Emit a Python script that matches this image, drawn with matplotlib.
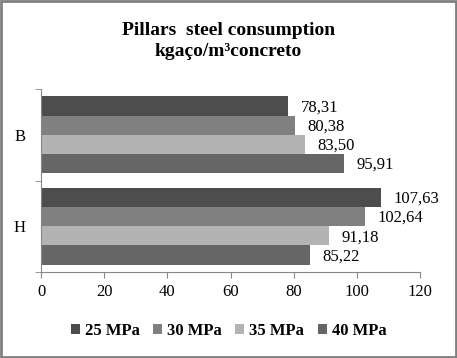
import matplotlib
matplotlib.use("Agg")
import numpy as np
from matplotlib import pyplot as plt
from matplotlib.patches import Rectangle

categories = ["H", "B"]
series = ["25 MPa", "30 MPa", "35 MPa", "40 MPa"]
# values per series, ordered like categories (H, B)
v25 = [107.63, 78.31]
v30 = [102.64, 80.38]
v35 = [91.18, 83.50]
v40 = [85.22, 95.91]
values = [v25, v30, v35, v40]
colors = ["#4d4d4d", "#808080", "#b3b3b3", "#666666"]
xticks = [0, 20, 40, 60, 80, 100, 120]

plt.rcParams['font.family'] = ['Liberation Serif', 'DejaVu Serif']

fig = plt.figure(figsize=(4.57, 3.58), dpi=100)
ax = fig.add_axes([41/457, 1-272/358, 379/457, 183/358])

h = 0.21
y = np.arange(len(categories))
for i in range(len(series)):
    pos = y + (1.5 - i)*h
    ax.barh(pos, values[i], height=h, color=colors[i], label=series[i], linewidth=0)
    for p, v in zip(pos, values[i]):
        ax.annotate(("%.2f" % v).replace(".", ","), (v, p), xytext=(9, -1),
                    textcoords="offset points", va="center", ha="left", fontsize=12)

ax.set_xlim(0, 120)
ax.set_ylim(-0.5, 1.5)
ax.set_xticks(xticks)
ax.set_xticklabels([str(t) for t in xticks], fontsize=12)
ax.set_yticks(y)
ax.set_yticklabels(categories, fontsize=12)
ax.set_yticks([-0.5, 0.5, 1.5], minor=True)
ax.tick_params(axis="y", which="major", length=0, pad=11)
ax.tick_params(axis="y", which="minor", length=4, color="#868686", direction="out")
ax.tick_params(axis="x", length=4, color="#868686", direction="out", pad=5)
for s in ["top", "right"]:
    ax.spines[s].set_visible(False)
for s in ["left", "bottom"]:
    ax.spines[s].set_color("#868686")

fig.text(0.5, 1-41/358, "Pillars  steel consumption\nkgaço/m³concreto", ha="center", va="center",
         fontsize=14, fontweight="bold", linespacing=1.3)

fig.legend(loc="center", bbox_to_anchor=(0.5, 1-331/358), ncol=4, frameon=False,
           prop={"weight": "bold", "size": 12}, handlelength=0.55, handleheight=0.55,
           handletextpad=0.3, columnspacing=0.8)

fig.patches.append(Rectangle((0.002, 0.003), 0.996, 0.994, transform=fig.transFigure,
                             fill=False, edgecolor="#808080", linewidth=2))

fig.savefig("out.png", dpi=100)
